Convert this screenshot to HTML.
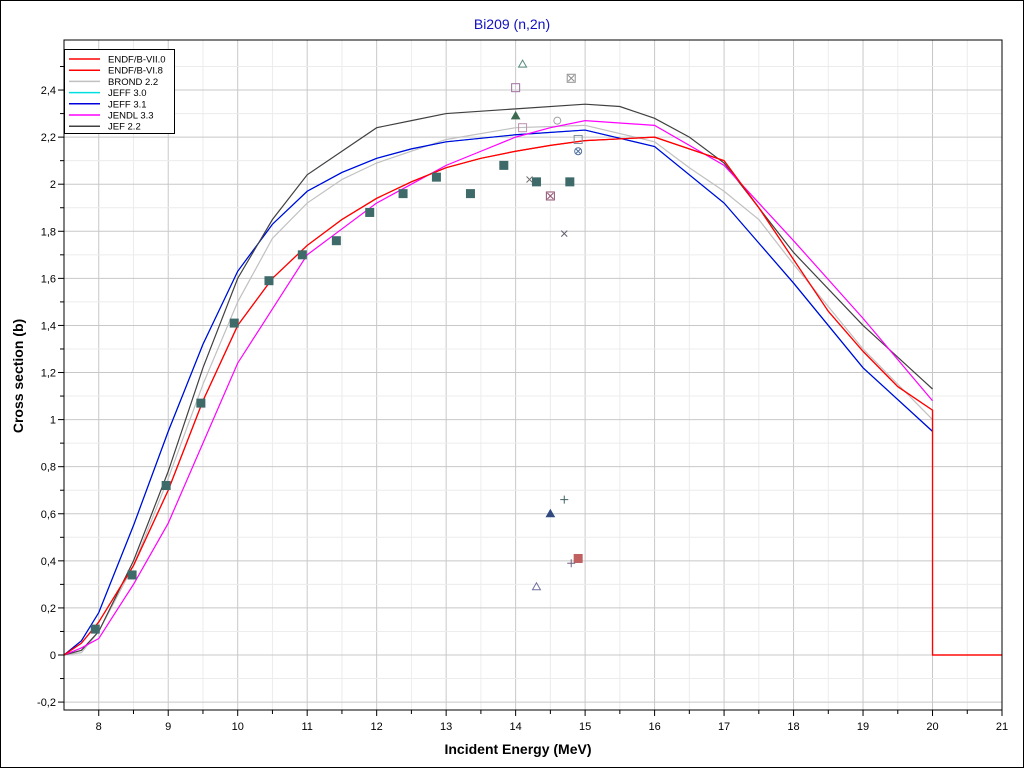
<!DOCTYPE html>
<html><head><meta charset="utf-8"><style>
html,body{margin:0;padding:0;background:#fff}
svg{display:block;font-family:"Liberation Sans",sans-serif}
</style></head><body>
<svg id="chart" width="1024" height="768">
<rect x="0.5" y="0.5" width="1023" height="767" fill="#fff" stroke="#000"/>
<text x="512" y="29" text-anchor="middle" font-size="14" fill="#1010c0">Bi209 (n,2n)</text>
<g id="grid"></g>
<g id="curves"></g>
<g id="points"></g>
<g id="axes"></g>
<text x="518" y="754" text-anchor="middle" font-size="14" font-weight="bold">Incident Energy (MeV)</text>
<text transform="translate(23,376) rotate(-90)" text-anchor="middle" font-size="14" font-weight="bold">Cross section (b)</text>
<g id="legend"></g>
</svg>
<script>
const xTicks=[8,9,10,11,12,13,14,15,16,17,18,19,20,21];
const yTicks=[-0.2,0,0.2,0.4,0.6,0.8,1,1.2,1.4,1.6,1.8,2,2.2,2.4];
const redE=[7.5,7.75,8,8.5,9,9.5,10,10.5,11,11.5,12,12.5,13,13.5,14,14.5,15,16,17,17.5,18,18.5,19,19.5,20,20,21];
const redV=[0,0.05,0.14,0.38,0.70,1.08,1.40,1.60,1.74,1.85,1.94,2.01,2.07,2.11,2.14,2.165,2.185,2.2,2.10,1.9,1.68,1.46,1.29,1.14,1.04,0,0];
const blueE=[7.5,7.75,8,8.5,9,9.5,10,10.5,11,11.5,12,12.5,13,14,15,16,17,18,19,20];
const blueV=[0,0.06,0.18,0.55,0.95,1.32,1.63,1.83,1.97,2.05,2.11,2.15,2.18,2.21,2.23,2.16,1.92,1.58,1.22,0.95];
const grayE=[7.5,7.75,8,8.5,9,9.5,10,10.5,11,11.5,12,13,14,15,16,16.5,17,17.5,18,19,20];
const grayV=[0,0.01,0.1,0.38,0.75,1.15,1.5,1.77,1.92,2.02,2.09,2.19,2.24,2.25,2.18,2.07,1.97,1.85,1.66,1.3,1.0];
const blackE=[7.5,7.75,8,8.5,9,9.5,10,10.5,11,11.5,12,12.5,13,14,15,15.5,16,16.5,17,18,19,20];
const blackV=[0,0.02,0.1,0.4,0.78,1.22,1.6,1.85,2.04,2.14,2.24,2.27,2.3,2.32,2.34,2.33,2.28,2.2,2.09,1.71,1.4,1.13];
const magE=[7.5,7.75,8,8.5,9,9.5,10,10.5,11,11.5,12,12.5,13,13.5,14,14.5,15,16,17,18,19,20];
const magV=[0,0.03,0.07,0.3,0.56,0.9,1.24,1.47,1.7,1.81,1.92,2.0,2.08,2.14,2.2,2.24,2.27,2.25,2.08,1.76,1.43,1.08];
const expE=[7.95,8.48,8.97,9.47,9.95,10.45,10.93,11.42,11.9,12.38,12.86,13.35,13.83,14.3,14.78];
const expV=[0.11,0.34,0.72,1.07,1.41,1.59,1.70,1.76,1.88,1.96,2.03,1.96,2.08,2.01,2.01];
const oE=[14.1,14.0,14.8,14.0,14.1,14.6,14.9,14.9,14.2,14.5,14.7,14.7,14.5,14.9,14.8,14.3];
const oV=[2.51,2.41,2.45,2.29,2.24,2.27,2.19,2.14,2.02,1.95,1.79,0.66,0.6,0.41,0.39,0.29];
const oType=['tri','sq','xsq','ftri','sq','circ','sq','xcirc','x','xsq','x','plus','ftri','fsq','plus','tri'];
const oColor=['#5a8a80','#a070a0','#909090','#3c6a50','#c090b0','#a0a0a0','#8090a0','#5070a0','#707070','#905070','#606070','#406060','#304a80','#c06060','#706080','#7070a0'];
const legendNames=['ENDF/B-VII.0','ENDF/B-VI.8','BROND 2.2','JEFF 3.0','JEFF 3.1','JENDL 3.3','JEF 2.2'];
const legendColors=['#ff0000','#ff0000','#c0c0c0','#00e0e0','#0000dd','#ff00ff','#404040'];

const X0=64,X1=1002,Y0=40,Y1=710;
const xs=e=>X0+(e-7.5)*(X1-X0)/13.5;
const ys=v=>655-v*235.4;
const NS='http://www.w3.org/2000/svg';
function mk(tag,attrs,parent){const el=document.createElementNS(NS,tag);for(const k in attrs)el.setAttribute(k,attrs[k]);parent.appendChild(el);return el;}
const grid=document.getElementById('grid'),axes=document.getElementById('axes');
for(let e=7.5;e<=21.001;e+=0.5){const l=mk('line',{x1:xs(e),x2:xs(e),y1:Y0,y2:Y1,stroke:Number.isInteger(e)?'#c8c8c8':'#ececec'},grid);

}
for(let v=-0.2;v<=2.6;v+=0.1){const major=Math.abs(Math.round(v*10)%2)===0;const l=mk('line',{x1:X0,x2:X1,y1:ys(v),y2:ys(v),stroke:major?'#c8c8c8':'#ececec'},grid);

}
mk('rect',{x:X0,y:Y0,width:X1-X0,height:Y1-Y0,fill:'none',stroke:'#000'},axes);
xTicks.forEach(t=>{const l=mk('line',{x1:xs(t),x2:xs(t),y1:Y1,y2:Y1+6,stroke:'#000'},axes);


const tx=mk('text',{x:xs(t),y:Y1+20,'text-anchor':'middle','font-size':'11'},axes);tx.textContent=t;

});
for(let e=8.5;e<21;e+=1){mk('line',{x1:xs(e),x2:xs(e),y1:Y1,y2:Y1+4,stroke:'#000'},axes);}
yTicks.forEach(t=>{const l=mk('line',{x1:X0-6,x2:X0,y1:ys(t),y2:ys(t),stroke:'#000'},axes);


const tx=mk('text',{x:X0-8,y:ys(t)+4,'text-anchor':'end','font-size':'11'},axes);tx.textContent=String(Math.round(t*10)/10).replace('.',',');

});
for(let v=-0.1;v<2.6;v+=0.2){mk('line',{x1:X0-4,x2:X0,y1:ys(v),y2:ys(v),stroke:'#000'},axes);}
const curves=document.getElementById('curves');
function curve(E,V,color,name){const p=mk('polyline',{points:E.map((e,i)=>xs(e)+','+ys(V[i])).join(' '),fill:'none',stroke:color,'stroke-width':1.2},curves);

}
curve(grayE,grayV,'#c0c0c0','brond-2.2-curve');
curve(blueE,blueV,'#00e0e0','jeff-3.0-curve');
curve(blueE,blueV,'#0000dd','jeff-3.1-curve');
curve(blackE,blackV,'#404040','jef-2.2-curve');
curve(magE,magV,'#ff00ff','jendl-3.3-curve');
curve(redE,redV,'#ff0000','endf-b-vi.8-curve');
curve(redE,redV,'#ff0000','endf-b-vii.0-curve');
const pts=document.getElementById('points');
expE.forEach((e,i)=>{const r=mk('rect',{x:xs(e)-4.5,y:ys(expV[i])-4.5,width:9,height:9,fill:'#3f6a6a'},pts);

});
oE.forEach((e,i)=>{const x=xs(e),y=ys(oV[i]),c=oColor[i],t=oType[i];let el;
const g=mk('g',{stroke:c,fill:'none','stroke-width':1},pts);
if(t==='tri'||t==='ftri'){mk('polygon',{points:`${x},${y-4} ${x-4},${y+3} ${x+4},${y+3}`,fill:t==='ftri'?c:'none'},g);}
else if(t==='sq'||t==='fsq'||t==='xsq'){mk('rect',{x:x-4,y:y-4,width:8,height:8,fill:t==='fsq'?c:'none'},g);if(t==='xsq'){mk('path',{d:`M${x-3},${y-3}L${x+3},${y+3}M${x+3},${y-3}L${x-3},${y+3}`},g);}}
else if(t==='circ'||t==='xcirc'){mk('circle',{cx:x,cy:y,r:3.5},g);if(t==='xcirc'){mk('path',{d:`M${x-2.5},${y-2.5}L${x+2.5},${y+2.5}M${x+2.5},${y-2.5}L${x-2.5},${y+2.5}`},g);}}
else if(t==='x'){mk('path',{d:`M${x-3},${y-3}L${x+3},${y+3}M${x+3},${y-3}L${x-3},${y+3}`},g);}
else {mk('path',{d:`M${x-4},${y}L${x+4},${y}M${x},${y-4}L${x},${y+4}`},g);}

});
const lg=document.getElementById('legend');
mk('rect',{x:64.5,y:49.5,width:110,height:84,fill:'#fff',stroke:'#000'},lg);
legendNames.forEach((n,i)=>{const y=59+i*11.2;const l=mk('line',{x1:69,x2:100,y1:y,y2:y,stroke:legendColors[i],'stroke-width':1.5},lg);


const tx=mk('text',{x:108,y:y+3.5,'font-size':'9.5'},lg);tx.textContent=n;

});
</script>
</body></html>
